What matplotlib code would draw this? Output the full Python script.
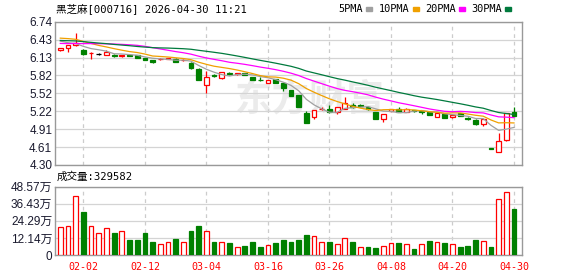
import pandas as pd
import matplotlib
matplotlib.use("Agg")
import matplotlib.pyplot as plt

plt.rcParams["font.family"] = ["DejaVu Sans", "Noto Sans CJK SC"]

# 交易日: 2026-01-28 ~ 2026-04-30, 去掉春节和清明假期
holidays = ["2026-02-16", "2026-02-17", "2026-02-18", "2026-02-19",
            "2026-02-20", "2026-02-23", "2026-04-06"]
days = pd.bdate_range("2026-01-28", "2026-04-30")
days = days[~days.isin(pd.to_datetime(holidays))]
dates = days.strftime("%m-%d").tolist()

tick_labels = ["02-02", "02-12", "03-04", "03-16", "03-26", "04-08", "04-20", "04-30"]

opens = [6.25, 6.30, 6.34, 6.26, 6.20, 6.19, 6.18, 6.18, 6.16, 6.17,
         6.17, 6.13, 6.08, 6.10, 6.11, 6.11, 6.08, 6.04, 5.93, 5.67,
         5.84, 5.78, 5.86, 5.85, 5.87, 5.80, 5.75, 5.70, 5.76, 5.70,
         5.58, 5.50, 5.19, 5.12, 5.25, 5.26, 5.20, 5.26, 5.33, 5.33,
         5.29, 5.21, 5.09, 5.22, 5.25, 5.20, 5.23, 5.22, 5.20, 5.12,
         5.16, 5.11, 5.18, 5.10, 5.07, 4.99, 4.59, 4.52, 4.72, 5.20]
highs = [6.30, 6.35, 6.55, 6.28, 6.22, 6.20, 6.25, 6.19, 6.17, 6.18,
         6.17, 6.13, 6.08, 6.12, 6.13, 6.12, 6.10, 6.05, 5.95, 5.90,
         5.85, 5.88, 5.88, 5.87, 5.87, 5.80, 5.79, 5.75, 5.76, 5.70,
         5.58, 5.50, 5.22, 5.23, 5.28, 5.32, 5.28, 5.45, 5.36, 5.34,
         5.30, 5.21, 5.16, 5.26, 5.28, 5.27, 5.24, 5.23, 5.20, 5.18,
         5.16, 5.15, 5.18, 5.11, 5.08, 5.09, 4.59, 4.85, 5.18, 5.28]
lows = [6.24, 6.23, 6.33, 6.17, 6.10, 6.18, 6.17, 6.14, 6.14, 6.15,
        6.13, 6.08, 6.04, 6.09, 6.10, 6.05, 6.07, 5.94, 5.74, 5.52,
        5.79, 5.76, 5.83, 5.84, 5.83, 5.74, 5.73, 5.70, 5.70, 5.56,
        5.48, 5.28, 5.02, 5.08, 5.24, 5.19, 5.17, 5.26, 5.27, 5.29,
        5.24, 5.09, 5.04, 5.22, 5.20, 5.20, 5.21, 5.16, 5.15, 5.11,
        5.10, 5.10, 5.14, 5.07, 4.98, 4.97, 4.58, 4.52, 4.71, 5.14]
closes = [6.29, 6.34, 6.38, 6.19, 6.21, 6.19, 6.22, 6.16, 6.17, 6.16,
          6.13, 6.08, 6.05, 6.11, 6.12, 6.06, 6.09, 5.96, 5.74, 5.80,
          5.81, 5.88, 5.85, 5.86, 5.83, 5.75, 5.74, 5.75, 5.70, 5.61,
          5.48, 5.28, 5.02, 5.23, 5.26, 5.20, 5.28, 5.35, 5.29, 5.30,
          5.25, 5.09, 5.16, 5.26, 5.20, 5.25, 5.22, 5.21, 5.15, 5.18,
          5.10, 5.15, 5.14, 5.08, 4.99, 5.09, 4.58, 4.71, 5.18, 5.14]
# 图中第一天之前的收盘价 (用于均线)
prior_closes = [6.45, 6.50, 6.55, 6.58, 6.54, 6.52, 6.56, 6.50, 6.48, 6.52,
                6.40, 6.33, 6.25, 6.20, 6.22, 6.26, 6.24, 6.28, 6.30, 6.32,
                6.42, 6.50, 6.55, 6.56, 6.52, 6.48, 6.45, 6.43, 6.40]

# 成交量 (万手)
volumes = [20.2, 20.9, 42.2, 30.9, 20.9, 16.0, 19.5, 16.0, 17.4, 11.0,
           11.0, 16.0, 9.6, 7.5, 8.9, 11.7, 8.9, 17.4, 20.9, 17.4,
           9.6, 9.4, 8.2, 5.8, 6.7, 8.9, 6.0, 7.3, 8.2, 11.0,
           8.9, 11.0, 14.5, 13.6, 8.9, 8.9, 8.0, 12.2, 8.9, 5.8,
           6.0, 5.3, 6.7, 8.2, 8.2, 7.5, 4.6, 7.5, 10.3, 8.9,
           8.2, 7.5, 6.0, 6.7, 11.0, 10.3, 6.0, 40.1, 45.1, 32.9582]
vol_side = "RRRGRRRGRGGGGRRGRGGRGRGRGGGRGGGGGRRGRRGRGGRRGRGRGRGRGGGRGRRG"

price_ticks = [4.30, 4.605, 4.91, 5.215, 5.52, 5.825, 6.13, 6.435, 6.74]
price_labels = ["4.30", "4.61", "4.91", "5.22", "5.52", "5.82", "6.13", "6.43", "6.74"]
vol_ticks = [0, 12.1425, 24.285, 36.4275, 48.57]
vol_labels = ["0", "12.14万", "24.29万", "36.43万", "48.57万"]

ma_periods = [5, 10, 20, 30]
ma_colors = ["#a0a0a0", "#f0a000", "#ff00ff", "#007a3d"]

RED = "#ff0000"
GREEN = "#008000"
W, H = 578, 276


def fx(px):
    return px / W


def fy(py):
    return 1 - py / H


fig = plt.figure(figsize=(W / 100, H / 100), dpi=100)
ax = fig.add_axes([fx(55), fy(165), fx(522.3) - fx(55), fy(21.7) - fy(165)])
axv = fig.add_axes([fx(55), fy(255), fx(522.3) - fx(55), fy(186.7) - fy(255)])

x = list(range(len(dates)))
tick_idx = [dates.index(d) for d in tick_labels]

# K线
colors, faces = [], []
for o, c in zip(opens, closes):
    if c > o:
        colors.append(RED)
        faces.append("white")
    elif c < o:
        colors.append(GREEN)
        faces.append(GREEN)
    else:
        colors.append("black")
        faces.append("black")
bottoms = [min(o, c) for o, c in zip(opens, closes)]
heights = [abs(c - o) for o, c in zip(opens, closes)]
ax.vlines(x, lows, highs, colors=colors, lw=0.9, zorder=2)
ax.bar(x, heights, bottom=bottoms, width=0.62, color=faces,
       edgecolor=colors, lw=0.9, zorder=3)

# 均线
full = pd.Series(prior_closes + closes)
for n, col in zip(ma_periods, ma_colors):
    ma = full.rolling(n).mean().iloc[len(prior_closes):]
    ax.plot(x, ma.values, color=col, lw=0.9, zorder=4)

# 成交量
vcol = [RED if s == "R" else GREEN for s in vol_side]
vface = ["white" if s == "R" else GREEN for s in vol_side]
axv.bar(x, volumes, width=0.62, color=vface, edgecolor=vcol, lw=0.9, zorder=3)

for a in (ax, axv):
    a.set_xlim(-0.69, 60.08)
    a.set_xticks(tick_idx)
    a.set_axisbelow(True)
    a.grid(axis="y", color="#d4d4d4", lw=0.9)
    a.grid(axis="x", color="#cccccc", lw=0.9, ls=(0, (3, 3)))
    a.tick_params(length=0, labelsize=8.5, colors="#1a1a2e", pad=2)
    for s in a.spines.values():
        s.set_color("#999999")
        s.set_linewidth(1)
    for lab in a.get_yticklabels():
        lab.set_family(["Liberation Sans", "Noto Sans CJK SC"])

ax.set_ylim(4.30, 6.74)
ax.set_yticks(price_ticks)
ax.set_yticklabels(price_labels, family=["Liberation Sans", "Noto Sans CJK SC"])
ax.set_xticklabels([])

axv.set_ylim(0, 48.57)
axv.set_yticks(vol_ticks)
axv.set_yticklabels(vol_labels, family=["Liberation Sans", "Noto Sans CJK SC"])
axv.set_xticklabels(tick_labels, color=RED, fontsize=7.2,
                    family=["DejaVu Sans Mono"])
axv.tick_params(axis="x", pad=5, colors=RED)

# 水印
ax.text(fx(310), fy(100), "东方财富", transform=fig.transFigure,
        fontsize=27, color="#ebebeb", family=["Noto Sans CJK SC"],
        weight="bold", ha="center", va="center", zorder=0.1)

mono = ["DejaVu Sans Mono", "Noto Sans CJK SC"]
fig.text(fx(56), fy(9), "黑芝麻[000716] 2026-04-30 11:21", family=mono,
         fontsize=7.6, va="center", ha="left")
fig.text(fx(57), fy(177), "成交量:329582", family=mono,
         fontsize=7.6, va="center", ha="left")

# 均线图例
leg_text_x = [338, 379, 425, 471]
for n, col, tx in zip(ma_periods, ma_colors, leg_text_x):
    t = fig.text(fx(tx), fy(9), f"{n}PMA", family=mono, fontsize=7.4,
                 va="center", ha="left")
    fig.canvas.draw()
    bb = t.get_window_extent()
    fig.patches.append(plt.Rectangle((fx(bb.x1 + 3), fy(11)), fx(6), fy(7) - fy(11),
                                     transform=fig.transFigure, color=col,
                                     figure=fig))

fig.savefig("out.png", dpi=100)
